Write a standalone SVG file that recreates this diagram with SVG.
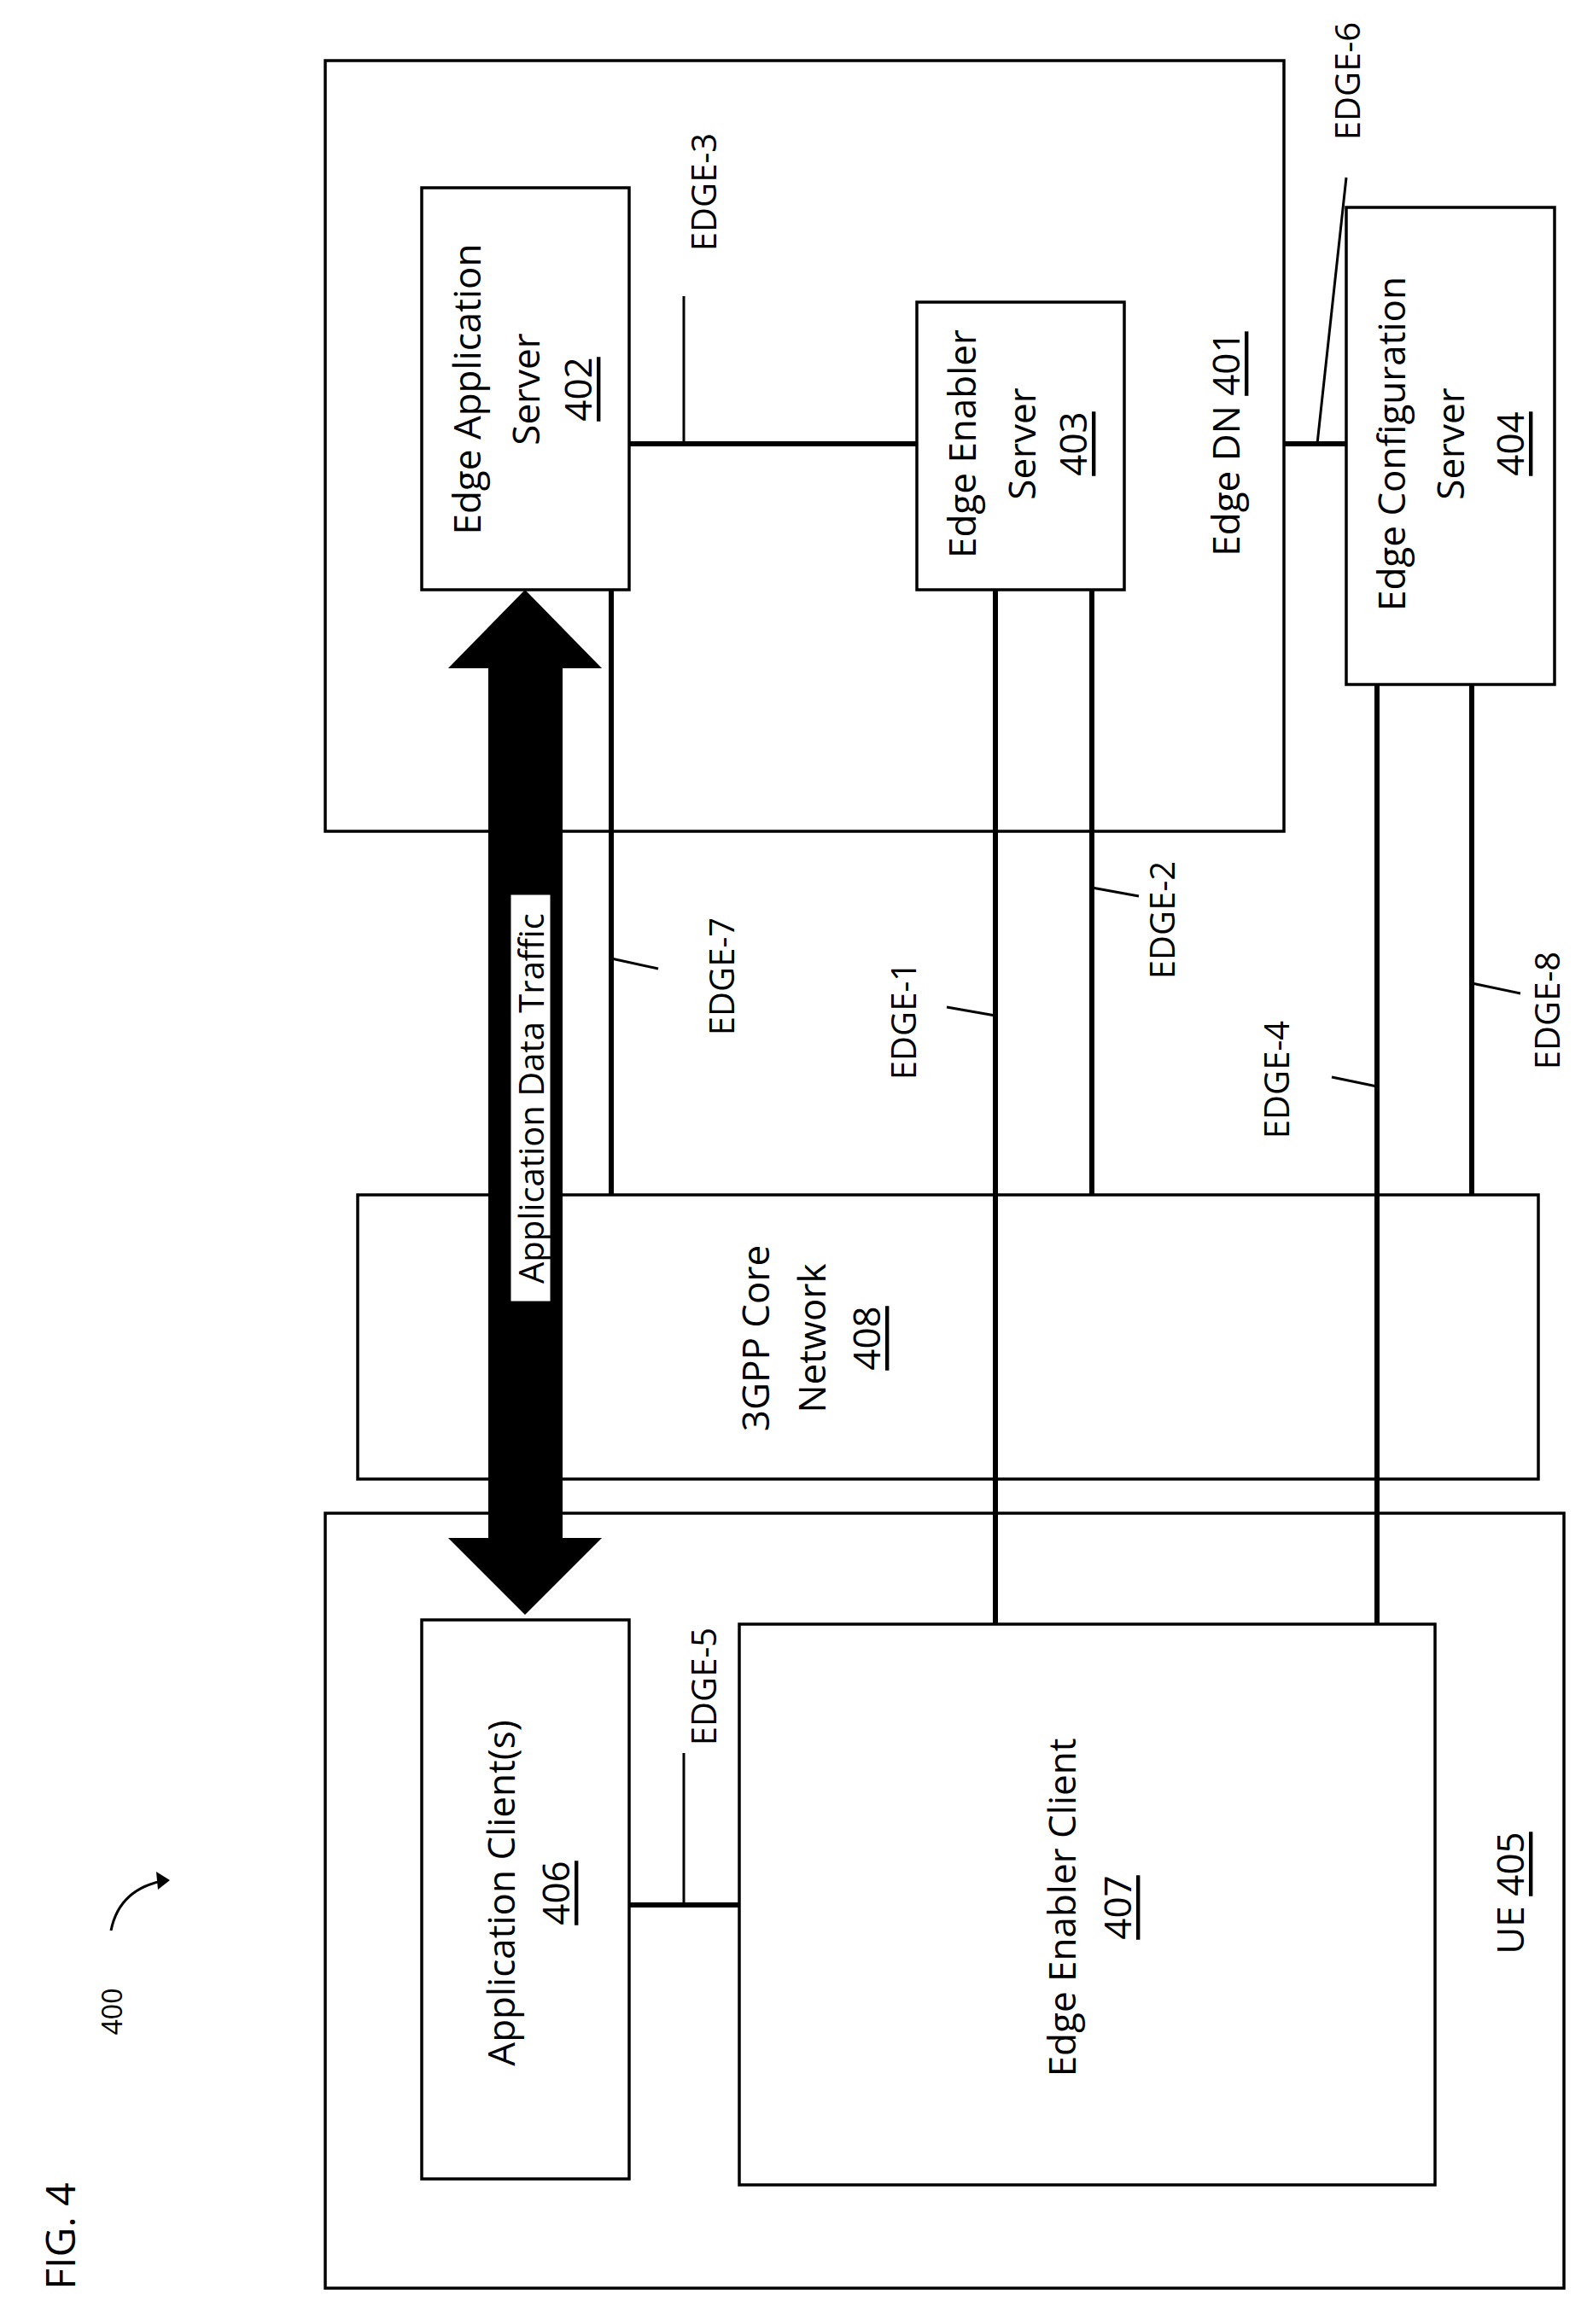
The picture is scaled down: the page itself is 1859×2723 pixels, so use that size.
<svg xmlns="http://www.w3.org/2000/svg" width="1859" height="2723" viewBox="0 0 1859 2723">
<style>
.b{fill:#fff;stroke:#000;stroke-width:3.5}
.t{font-family:"Open Sans","Liberation Sans",sans-serif;font-size:44px;text-anchor:middle;dominant-baseline:central;fill:#000}
.s{font-size:40px}
.l{stroke:#000;stroke-width:6;fill:none}
.k{stroke:#000;stroke-width:3;fill:none}
</style>
<rect width="1859" height="2723" fill="#fff"/>
<g id="dn401"><rect class="b" x="381" y="71" width="1123" height="903"/>
<text class="t" transform="translate(1435,520) rotate(-90)">Edge DN <tspan text-decoration="underline">401</tspan></text></g>
<g id="ue405"><rect class="b" x="381" y="1773" width="1451" height="908"/>
<text class="t" transform="translate(1768,2218) rotate(-90)">UE <tspan text-decoration="underline">405</tspan></text></g>
<g id="core408"><rect class="b" x="419" y="1400" width="1383" height="333"/>
<text class="t" transform="translate(884,1568) rotate(-90)">3GPP Core</text>
<text class="t" transform="translate(950,1568) rotate(-90)">Network</text>
<text class="t" transform="translate(1014,1568) rotate(-90)" text-decoration="underline">408</text></g>
<g id="eas402"><rect class="b" x="494" y="220" width="243" height="471"/>
<text class="t" transform="translate(546,456) rotate(-90)">Edge Application</text>
<text class="t" transform="translate(615,456) rotate(-90)">Server</text>
<text class="t" transform="translate(676,456) rotate(-90)" text-decoration="underline">402</text></g>
<g id="ees403"><rect class="b" x="1074" y="354" width="243" height="337"/>
<text class="t" transform="translate(1126,520) rotate(-90)">Edge Enabler</text>
<text class="t" transform="translate(1196,520) rotate(-90)">Server</text>
<text class="t" transform="translate(1256,520) rotate(-90)" text-decoration="underline">403</text></g>
<g id="ecs404"><rect class="b" x="1577" y="243" width="244" height="559"/>
<text class="t" transform="translate(1629,520) rotate(-90)">Edge Configuration</text>
<text class="t" transform="translate(1698,520) rotate(-90)">Server</text>
<text class="t" transform="translate(1768,520) rotate(-90)" text-decoration="underline">404</text></g>
<g id="ac406"><rect class="b" x="494" y="1898" width="243" height="655"/>
<text class="t" transform="translate(586,2218) rotate(-90)">Application Client(s)</text>
<text class="t" transform="translate(650,2218) rotate(-90)" text-decoration="underline">406</text></g>
<g id="eec407"><rect class="b" x="866" y="1903" width="815" height="657"/>
<text class="t" transform="translate(1243,2235) rotate(-90)">Edge Enabler Client</text>
<text class="t" transform="translate(1308,2235) rotate(-90)" text-decoration="underline">407</text></g>
<g id="connectors">
<path class="l" d="M737 520H1074M1504 520H1577M716 691V1400M1166 691V1903M1279 691V1400M1613 802V1903M1724 802V1400M737 2232H866"/>
<path class="k" d="M801 520V347M1543 520L1577 208M716 1123L771 1135M1166 1190L1109 1180M1279 1040L1334 1050M1613 1273L1560 1262M1724 1152L1781 1164M801 2232V2054"/>
<polygon fill="#000" points="615,691 705,783 659,783 659,1802 705,1802 615,1892 525,1802 572,1802 572,783 525,783"/>
<rect x="598" y="1048" width="47" height="477" fill="#fff" stroke="#000" stroke-width="1"/>
<text class="t s" transform="translate(621,1287) rotate(-90)">Application Data Traffic</text>
<text class="t s" transform="translate(823,225) rotate(-90)">EDGE-3</text>
<text class="t s" transform="translate(1577,95) rotate(-90)">EDGE-6</text>
<text class="t s" transform="translate(844,1144) rotate(-90)">EDGE-7</text>
<text class="t s" transform="translate(1057,1196) rotate(-90)">EDGE-1</text>
<text class="t s" transform="translate(1360,1078) rotate(-90)">EDGE-2</text>
<text class="t s" transform="translate(1494,1265) rotate(-90)">EDGE-4</text>
<text class="t s" transform="translate(1811,1184) rotate(-90)">EDGE-8</text>
<text class="t s" transform="translate(823,1976) rotate(-90)">EDGE-5</text>
</g>
<text class="t" transform="translate(130,2357) rotate(-90)" style="font-size:32px">400</text>
<path class="k" d="M130 2262Q140 2212 195 2203" />
<polygon points="199,2203 183,2193 185,2214" fill="#000"/>
<text class="t" transform="translate(69,2620) rotate(-90)" style="font-size:48px">FIG. 4</text>
</svg>
